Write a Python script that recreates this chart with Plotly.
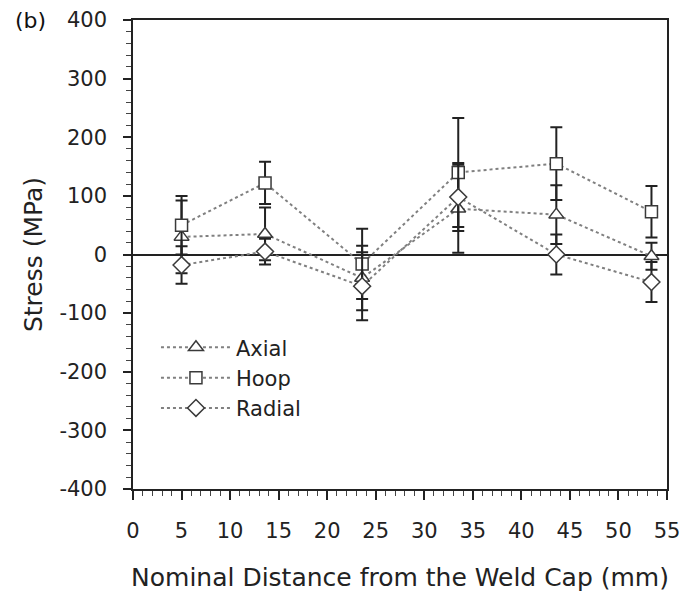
import plotly.graph_objects as go

x_pos = [5, 13.6, 23.6, 33.5, 43.6, 53.4]

axial = [30, 35, -40, 78, 68, -3]
axial_err = [62, 45, 55, 75, 50, 23]

hoop = [50, 122, -16, 140, 155, 73]
hoop_err = [50, 36, 60, 93, 62, 44]

radial = [-18, 5, -54, 98, 0, -47]
radial_err = [32, 22, 58, 58, 34, 34]

y_ticks = [-400, -300, -200, -100, 0, 100, 200, 300, 400]
y_tick_labels = ["-400", "-300", "-200", "-100", "0", "100", "200", "300", "400"]

FONT = "DejaVu Sans"
fig = go.Figure()

def add(name, y, err, symbol, size):
    fig.add_trace(go.Scatter(
        x=x_pos, y=y, name=name, mode="lines+markers",
        line=dict(color="#808080", width=2, dash="dot"),
        marker=dict(symbol=symbol, size=size, color="white",
                    line=dict(color="#3a3a3a", width=1.5)),
        error_y=dict(type="data", array=err, visible=True,
                     color="#222222", thickness=2, width=6),
    ))

add("Axial", axial, axial_err, "triangle-up", 13)
add("Hoop", hoop, hoop_err, "square", 12)
add("Radial", radial, radial_err, "diamond", 13)

fig.update_layout(
    width=686, height=593,
    margin=dict(l=133, r=19, t=20, b=104),
    paper_bgcolor="white", plot_bgcolor="white",
    font=dict(family=FONT, size=21, color="#222222"),
    showlegend=True,
    legend=dict(x=0.043, y=0.345, xanchor="left", yanchor="top",
                bgcolor="rgba(0,0,0,0)", font=dict(size=21),
                itemwidth=70, tracegroupgap=2),
    annotations=[dict(text="(b)", x=-0.225, y=1.0, xref="paper", yref="paper",
                      xanchor="left", yanchor="middle", showarrow=False,
                      font=dict(size=22, color="#111111"))],
)

fig.update_xaxes(
    range=[0, 55], dtick=5, tick0=0, automargin=False,
    showline=True, linecolor="#222222", linewidth=1.5, mirror=True,
    ticks="outside", ticklen=9, tickwidth=1.5, tickcolor="#222222",
    minor=dict(dtick=1, ticks="outside", ticklen=5, tickcolor="#444444", tickwidth=1),
    showgrid=False, zeroline=False,
    title=dict(text="Nominal Distance from the Weld Cap (mm)", standoff=27),
    ticklabelstandoff=13,
)
fig.update_yaxes(
    range=[-400, 400], tickvals=y_ticks, ticktext=y_tick_labels, automargin=False,
    showline=True, linecolor="#222222", linewidth=1.5, mirror=True,
    ticks="outside", ticklen=8, tickwidth=1.5, tickcolor="#222222",
    minor=dict(dtick=20, tick0=0, ticks="outside", ticklen=5, tickcolor="#444444", tickwidth=1),
    showgrid=False, zeroline=True, zerolinecolor="#222222", zerolinewidth=1.5,
    title=dict(text="Stress (MPa)", standoff=10),
    ticklabelstandoff=12,
)

fig.write_html("out.html")
